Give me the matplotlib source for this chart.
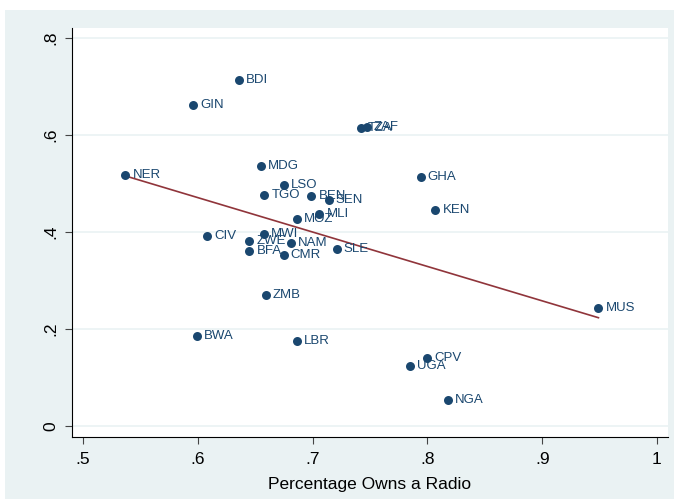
import matplotlib
matplotlib.use('Agg')
from matplotlib import pyplot as plt
import numpy as np

plt.rcParams['font.family'] = ['Liberation Sans', 'DejaVu Sans']

# country codes and values
countries = ['BDI', 'GIN', 'TZA', 'ZAF', 'NER', 'MDG', 'GHA', 'LSO', 'TGO', 'BEN',
             'SEN', 'KEN', 'MLI', 'MOZ', 'CIV', 'MWI', 'ZWE', 'NAM', 'SLE', 'BFA',
             'CMR', 'ZMB', 'MUS', 'BWA', 'LBR', 'CPV', 'UGA', 'NGA']
radio = [0.636, 0.596, 0.742, 0.747, 0.537, 0.655, 0.794, 0.675, 0.658, 0.699,
         0.714, 0.807, 0.706, 0.686, 0.608, 0.658, 0.645, 0.681, 0.721, 0.645,
         0.675, 0.659, 0.949, 0.599, 0.686, 0.800, 0.785, 0.818]
yvals = [0.713, 0.662, 0.614, 0.616, 0.518, 0.536, 0.513, 0.497, 0.476, 0.474,
         0.466, 0.445, 0.437, 0.427, 0.392, 0.396, 0.381, 0.377, 0.365, 0.361,
         0.353, 0.270, 0.243, 0.186, 0.175, 0.140, 0.124, 0.054]
xticks = [0.5, 0.6, 0.7, 0.8, 0.9, 1.0]
xticklabels = ['.5', '.6', '.7', '.8', '.9', '1']
yticks = [0, 0.2, 0.4, 0.6, 0.8]
yticklabels = ['0', '.2', '.4', '.6', '.8']

navy = '#1a476f'
maroon = '#90353b'
bg = '#eaf2f3'

fig = plt.figure(figsize=(6.74, 4.99), dpi=100)
fig.patch.set_facecolor('white')
fig.patches.append(plt.Rectangle((5 / 674, 0), 1, 1 - 10 / 499, transform=fig.transFigure,
                                 facecolor=bg, edgecolor='none', zorder=-10))
ax = fig.add_axes([72 / 674, 62 / 499, 596 / 674, 409 / 499])
ax.set_facecolor('white')

ax.set_xlim(0.4904, 1.0096)
ax.set_ylim(-0.0227, 0.8206)

for yt in yticks:
    ax.axhline(yt, color=bg, lw=1.2, zorder=0)

ax.scatter(radio, yvals, s=42, color=navy, zorder=3, linewidths=0)
for c, x, y in zip(countries, radio, yvals):
    ax.annotate(c, (x, y), xytext=(5, 0), textcoords='offset points',
                va='center', ha='left', fontsize=9.5, color=navy, zorder=4)

# linear fit
b, a = np.polyfit(radio, yvals, 1)
xs = np.array([min(radio), max(radio)])
ax.plot(xs, a + b * xs, color=maroon, lw=1.2, zorder=2)

ax.set_xticks(xticks)
ax.set_xticklabels(xticklabels)
ax.set_yticks(yticks)
ax.set_yticklabels(yticklabels, rotation=90, va='center')
ax.tick_params(axis='both', labelsize=12.5, length=5, width=0.8, color='#444444')
ax.tick_params(axis='x', pad=6)
ax.tick_params(axis='y', pad=5)
ax.spines['top'].set_visible(False)
ax.spines['right'].set_visible(False)
ax.spines['left'].set_linewidth(0.8)
ax.spines['bottom'].set_linewidth(0.8)
ax.set_xlabel('Percentage Owns a Radio', fontsize=12.5, labelpad=7)

fig.savefig('out.png', dpi=100, facecolor=fig.get_facecolor())
